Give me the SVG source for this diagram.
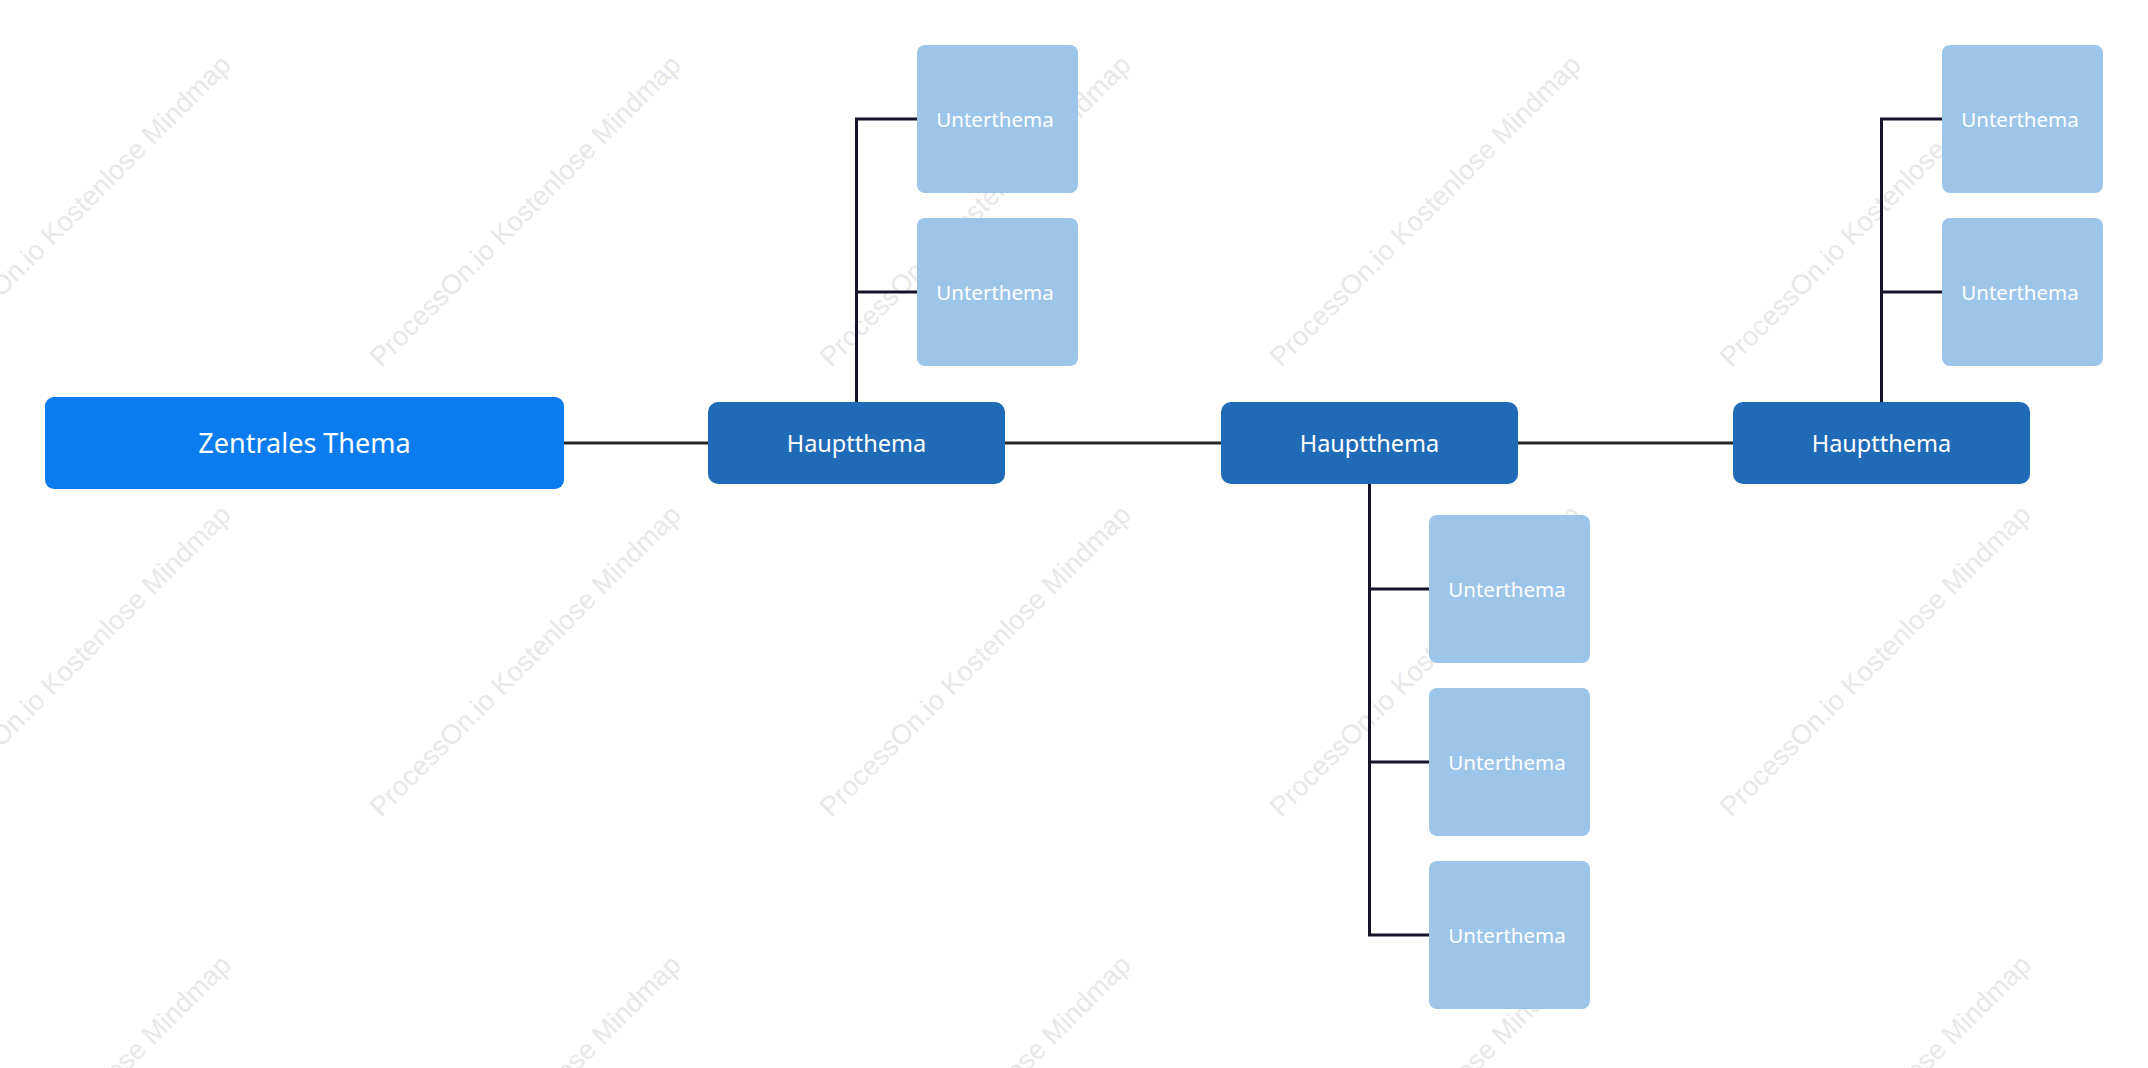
<svg xmlns="http://www.w3.org/2000/svg" width="2148" height="1068" viewBox="0 0 2148 1068">
<style>
.wm{font-family:"Liberation Sans",Arial,sans-serif;font-size:27.3px;fill:#e8e8e8}
.central rect{fill:#0a7cef}
.main rect{fill:#1f6bb8}
.sub rect{fill:#9dc5e9}
.lbl{font-family:"Noto Sans","Open Sans",sans-serif;fill:#ffffff;text-anchor:middle}
.conn{fill:none;stroke-width:3;stroke-linecap:butt;stroke-linejoin:miter}
.trunk{stroke:#262626}
.branch{stroke:#16132b}
</style>
<rect width="2148" height="1068" fill="#ffffff"/>
<g id="watermarks">
<text class="wm" transform="translate(-69,368) rotate(-45)">ProcessOn.io Kostenlose Mindmap</text>
<text class="wm" transform="translate(381,368) rotate(-45)">ProcessOn.io Kostenlose Mindmap</text>
<text class="wm" transform="translate(831,368) rotate(-45)">ProcessOn.io Kostenlose Mindmap</text>
<text class="wm" transform="translate(1281,368) rotate(-45)">ProcessOn.io Kostenlose Mindmap</text>
<text class="wm" transform="translate(1731,368) rotate(-45)">ProcessOn.io Kostenlose Mindmap</text>
<text class="wm" transform="translate(-69,818) rotate(-45)">ProcessOn.io Kostenlose Mindmap</text>
<text class="wm" transform="translate(381,818) rotate(-45)">ProcessOn.io Kostenlose Mindmap</text>
<text class="wm" transform="translate(831,818) rotate(-45)">ProcessOn.io Kostenlose Mindmap</text>
<text class="wm" transform="translate(1281,818) rotate(-45)">ProcessOn.io Kostenlose Mindmap</text>
<text class="wm" transform="translate(1731,818) rotate(-45)">ProcessOn.io Kostenlose Mindmap</text>
<text class="wm" transform="translate(-69,1268) rotate(-45)">ProcessOn.io Kostenlose Mindmap</text>
<text class="wm" transform="translate(381,1268) rotate(-45)">ProcessOn.io Kostenlose Mindmap</text>
<text class="wm" transform="translate(831,1268) rotate(-45)">ProcessOn.io Kostenlose Mindmap</text>
<text class="wm" transform="translate(1281,1268) rotate(-45)">ProcessOn.io Kostenlose Mindmap</text>
<text class="wm" transform="translate(1731,1268) rotate(-45)">ProcessOn.io Kostenlose Mindmap</text>
</g>
<g id="connectors">
<path class="conn trunk" d="M564 443H708M1005 443H1221M1518 443H1733"/>
<path class="conn branch" d="M856.5 402V119H917M856.5 292H917"/>
<path class="conn branch" d="M1369.5 484V935H1429M1369.5 589H1429M1369.5 762H1429"/>
<path class="conn branch" d="M1881.5 402V119H1942M1881.5 292H1942"/>
</g>
<g id="central" class="central">
<rect x="45" y="397" width="519" height="92" rx="9"/>
<text class="lbl" x="304.5" y="453" font-size="27">Zentrales Thema</text>
</g>
<g id="main1" class="main">
<rect x="708" y="402" width="297" height="82" rx="10"/>
<text class="lbl" x="856.5" y="451.5" font-size="23.5">Hauptthema</text>
</g>
<g id="main2" class="main">
<rect x="1221" y="402" width="297" height="82" rx="10"/>
<text class="lbl" x="1369.5" y="451.5" font-size="23.5">Hauptthema</text>
</g>
<g id="main3" class="main">
<rect x="1733" y="402" width="297" height="82" rx="10"/>
<text class="lbl" x="1881.5" y="451.5" font-size="23.5">Hauptthema</text>
</g>
<g id="sub1a" class="sub">
<rect x="917" y="45" width="161" height="148" rx="8"/>
<text class="lbl" x="995" y="126.5" font-size="20.5">Unterthema</text>
</g>
<g id="sub1b" class="sub">
<rect x="917" y="218" width="161" height="148" rx="8"/>
<text class="lbl" x="995" y="299.5" font-size="20.5">Unterthema</text>
</g>
<g id="sub2a" class="sub">
<rect x="1429" y="515" width="161" height="148" rx="8"/>
<text class="lbl" x="1507" y="596.5" font-size="20.5">Unterthema</text>
</g>
<g id="sub2b" class="sub">
<rect x="1429" y="688" width="161" height="148" rx="8"/>
<text class="lbl" x="1507" y="769.5" font-size="20.5">Unterthema</text>
</g>
<g id="sub2c" class="sub">
<rect x="1429" y="861" width="161" height="148" rx="8"/>
<text class="lbl" x="1507" y="942.5" font-size="20.5">Unterthema</text>
</g>
<g id="sub3a" class="sub">
<rect x="1942" y="45" width="161" height="148" rx="8"/>
<text class="lbl" x="2020" y="126.5" font-size="20.5">Unterthema</text>
</g>
<g id="sub3b" class="sub">
<rect x="1942" y="218" width="161" height="148" rx="8"/>
<text class="lbl" x="2020" y="299.5" font-size="20.5">Unterthema</text>
</g>
</svg>
